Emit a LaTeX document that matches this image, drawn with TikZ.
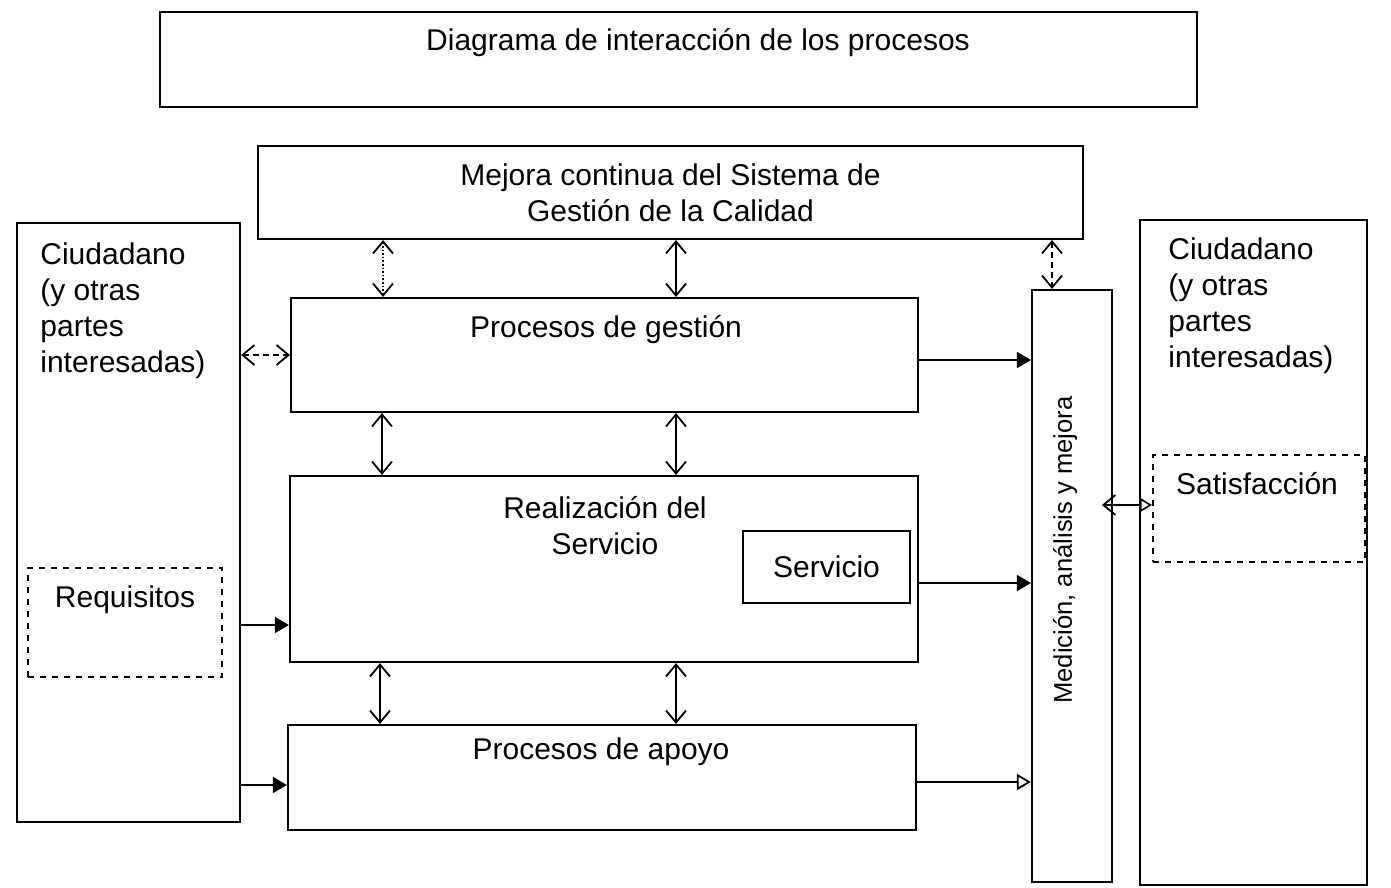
\documentclass[tikz,border=0pt]{standalone}
\usepackage{fontspec}
\setmainfont{Liberation Sans}
\usetikzlibrary{arrows.meta}
\begin{document}
\begin{tikzpicture}[x=0.5pt,y=-0.5pt,
  box/.style={draw, line width=1.1pt, inner sep=0pt},
  dbox/.style={draw, dashed, line width=1pt, inner sep=0pt},
  txt/.style={inner sep=0pt, font=\fontsize{15}{18}\selectfont},
  barb/.tip={Straight Barb[length=6pt,width=10pt,line width=0.9pt]},
  dbl/.style={line width=0.8pt, barb-barb},
  one/.style={line width=0.9pt, -{Triangle[length=7pt,width=8pt]}},
  onep/.style={line width=0.9pt, -{Triangle[open,length=7pt,width=8pt]}},
]
\useasboundingbox (0,0) rectangle (1391,888);
% boxes
\node[box, line width=0.8pt, minimum width=518.5pt, minimum height=47.5pt] (title) at (678.5,59.5) {};
\node[txt] (titlet) at (698,43) {Diagrama de interacción de los procesos};
\node[box, minimum width=412.5pt, minimum height=46.5pt, align=center, txt] (mejora) at (670.5,192.5)
  {Mejora continua del Sistema de\\Gestión de la Calidad};
\node[box, minimum width=111.5pt, minimum height=299.5pt] (ciuL) at (128.5,522.5) {};
\node[txt, anchor=north west, align=left] (ciuLt) at (40,242) {Ciudadano\\(y otras\\partes\\interesadas)};
\node[dbox, minimum width=97pt, minimum height=54.5pt] (req) at (125,622.5) {};
\node[txt] (reqt) at (125,600) {Requisitos};
\node[box, minimum width=313.5pt, minimum height=57pt] (gestion) at (604.5,355) {};
\node[txt] (gestiont) at (606,330) {Procesos de gestión};
\node[box, minimum width=314pt, minimum height=93pt] (real) at (604,569) {};
\node[txt, align=center] (realt) at (605,526) {Realización del\\Servicio};
\node[box, minimum width=83.5pt, minimum height=36pt, txt] (serv) at (826.5,567) {Servicio};
\node[box, minimum width=314pt, minimum height=52.5pt] (apoyo) at (602,777.5) {};
\node[txt] (apoyot) at (601,752) {Procesos de apoyo};
\node[box, minimum width=40pt, minimum height=296pt] (med) at (1072,586) {};
\node[txt, font=\fontsize{12.8}{15}\selectfont, rotate=90] (medt) at (1065,550) {Medición, análisis y mejora};
\node[box, minimum width=113.5pt, minimum height=332.5pt] (ciuR) at (1253.5,552.5) {};
\node[txt, anchor=north west, align=left] (ciuRt) at (1168,237) {Ciudadano\\(y otras\\partes\\interesadas)};
\node[dbox, minimum width=106pt, minimum height=53.5pt] (sat) at (1259,508.5) {};
\node[txt] (satt) at (1257,484) {Satisfacción};
% double arrows
\draw[dbl, densely dotted] (mejora.south -| 383,0) -- (gestion.north -| 383,0);
\draw[dbl] (mejora.south -| 676,0) -- (gestion.north -| 676,0);
\draw[dbl, densely dashed] (mejora.south -| 1052,0) -- (med.north -| 1052,0);
\draw[dbl, densely dashed] (ciuL.east |- 0,355) -- (gestion.west |- 0,355);
\draw[dbl] (gestion.south -| 382,0) -- (real.north -| 382,0);
\draw[dbl] (gestion.south -| 676,0) -- (real.north -| 676,0);
\draw[dbl] (real.south -| 380,0) -- (apoyo.north -| 380,0);
\draw[dbl] (real.south -| 676,0) -- (apoyo.north -| 676,0);
% single arrows
\draw[one] (gestion.east |- 0,360) -- (med.west |- 0,360);
\draw[one] (real.east |- 0,583) -- (med.west |- 0,583);
\draw[onep] (apoyo.east |- 0,782) -- (med.west |- 0,782);
\draw[one] (ciuL.east |- 0,625) -- (real.west |- 0,625);
\draw[one] (ciuL.east |- 0,785) -- (apoyo.west |- 0,785);
\coordinate (m1) at (1102,505);
\draw[line width=0.8pt, barb-{Triangle[open,length=6pt,width=7pt]}] (m1) -- (sat.west |- m1);
\end{tikzpicture}
\end{document}
